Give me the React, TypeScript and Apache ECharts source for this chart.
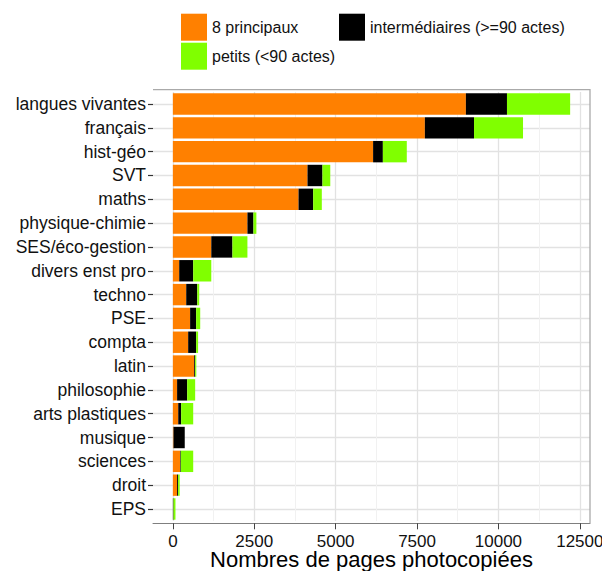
import React, { useEffect, useRef } from "react";
import * as echarts from "echarts";

const categories = [
  "langues vivantes",
  "français",
  "hist-géo",
  "SVT",
  "maths",
  "physique-chimie",
  "SES/éco-gestion",
  "divers enst pro",
  "techno",
  "PSE",
  "compta",
  "latin",
  "philosophie",
  "arts plastiques",
  "musique",
  "sciences",
  "droit",
  "EPS",
];

const principaux = [9000, 7740, 6150, 4135, 3860, 2290, 1180, 195, 410, 530, 470, 655, 130, 165, 20, 225, 130, 0];
const intermediaires = [1262, 1510, 300, 460, 450, 185, 650, 430, 340, 185, 245, 30, 310, 90, 345, 20, 30, 20];
const petits = [1940, 1505, 735, 240, 265, 90, 460, 555, 60, 125, 60, 35, 245, 370, 0, 380, 50, 60];

const seriesNames = ["8 principaux", "intermédiaires (>=90 actes)", "petits (<90 actes)"];
const seriesColors = ["#ff8000", "#000000", "#80ff00"];

const majorTicks = [0, 2500, 5000, 7500, 10000, 12500];
const minorTicks = [1250, 3750, 6250, 8750, 11250];
const xMin = -610;
const xMax = 12812;

const FONT = "Liberation Sans, Arial, Helvetica, sans-serif";

export default function App() {
  const ref = useRef<HTMLDivElement>(null);

  useEffect(() => {
    if (!ref.current) return;
    const chart = echarts.init(ref.current, undefined, { renderer: "svg" });
    const values = [principaux, intermediaires, petits];
    chart.setOption({
      animation: false,
      backgroundColor: "#ffffff",
      textStyle: { fontFamily: FONT },
      grid: {
        left: 153,
        right: 12,
        top: 92.1,
        bottom: 50.1,
        containLabel: false,
        outerBoundsMode: "none",
      },
      legend: [
        {
          data: [seriesNames[0], seriesNames[1]],
          left: 176,
          top: 8.7,
          orient: "horizontal",
          itemWidth: 26,
          itemHeight: 27,
          itemGap: 40.7,
          icon: "rect",
          selectedMode: false,
          textStyle: { fontSize: 16, color: "#111", fontFamily: FONT },
        },
        {
          data: [seriesNames[2]],
          left: 176,
          top: 37.7,
          orient: "horizontal",
          itemWidth: 26,
          itemHeight: 27,
          icon: "rect",
          selectedMode: false,
          textStyle: { fontSize: 16, color: "#111", fontFamily: FONT },
        },
      ],
      xAxis: [
        {
          type: "value",
          min: xMin,
          max: xMax,
          position: "bottom",
          offset: 2.4,
          name: "Nombres de pages photocopiées",
          nameLocation: "middle",
          nameGap: 26,
          nameMoveOverlap: false,
          nameTextStyle: { fontSize: 22, lineHeight: 20, color: "#000", fontFamily: FONT },
          axisLine: { show: true, onZero: false, lineStyle: { color: "#7f7f7f", width: 1 } },
          axisTick: {
            show: true,
            length: 6,
            customValues: majorTicks,
            lineStyle: { color: "#444", width: 1 },
          },
          axisLabel: {
            customValues: majorTicks,
            formatter: (v: number) => String(v),
            fontSize: 17,
            lineHeight: 14,
            color: "#111",
            margin: 11.5,
            fontFamily: FONT,
          },
          splitLine: { show: true, lineStyle: { color: "#e2e2e2", width: 1.3 } },
        },
        {
          type: "value",
          min: xMin,
          max: xMax,
          position: "top",
          axisLine: { show: false, onZero: false },
          axisTick: { show: false, customValues: minorTicks },
          axisLabel: { show: false, customValues: minorTicks },
          splitLine: { show: true, lineStyle: { color: "#f1f1f1", width: 1 } },
        },
      ],
      yAxis: {
        type: "category",
        data: categories,
        inverse: true,
        boundaryGap: true,
        axisLine: { show: true, onZero: false, lineStyle: { color: "#ffffff", width: 0, opacity: 0 } },
        axisTick: {
          show: true,
          length: 5,
          alignWithLabel: true,
          lineStyle: { color: "#333", width: 1.2 },
        },
        axisLabel: { fontSize: 17.5, color: "#111", margin: 7, fontFamily: FONT },
        splitLine: {
          show: true,
          alignWithLabel: true,
          lineStyle: { color: "#e2e2e2", width: 1.3 },
        },
      },
      graphic: [
        {
          type: "polyline",
          silent: true,
          z: 10,
          shape: { points: [[153, 89.7], [590, 89.7], [590, 523.3]] },
          style: { stroke: "#aaaaaa", lineWidth: 1.3, fill: "none" },
        },
      ],
      series: seriesNames.map((name, i) => ({
        name,
        type: "bar",
        stack: "total",
        xAxisIndex: 0,
        barWidth: 21.4,
        itemStyle: { color: seriesColors[i] },
        emphasis: { disabled: true },
        data: values[i],
      })),
    });
    return () => chart.dispose();
  }, []);

  return (
    <div
      ref={ref}
      style={{ position: "fixed", left: 0, top: 0, width: 602, height: 571 }}
    />
  );
}
